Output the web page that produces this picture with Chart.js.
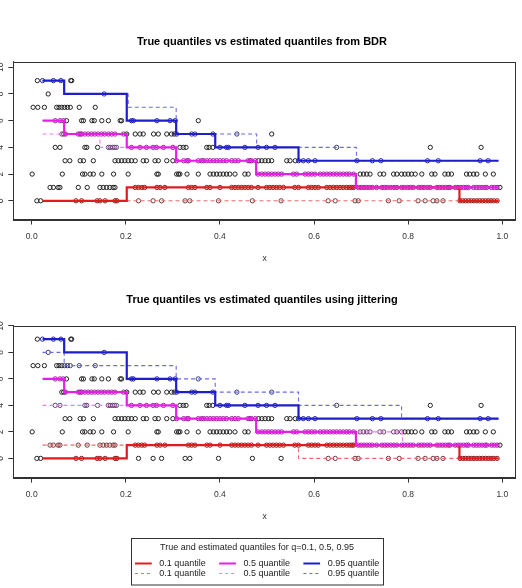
<!DOCTYPE html>
<html>
<head>
<meta charset="utf-8">
<script src="https://cdn.jsdelivr.net/npm/chart.js@4/dist/chart.umd.min.js"></script>
<style>
  html, body { margin: 0; padding: 0; background: #fff; }
  .wrap { position: relative; width: 522px; }
</style>
</head>
<body>
<div class="wrap" style="height:290px"><canvas id="chartBDR"></canvas></div>
<div class="wrap" style="height:298px"><canvas id="chartJitter"></canvas></div>
<script>
// ---------- observations : x positions for each y level ----------
const obsY0 = [0.011, 0.019, 0.094, 0.106, 0.139, 0.145, 0.156, 0.177, 0.181, 0.227, 0.258, 0.276, 0.326, 0.336,
  0.397, 0.469, 0.53, 0.63, 0.645, 0.687, 0.694, 0.758, 0.781, 0.821, 0.836, 0.853, 0.861, 0.874, 0.91, 0.916,
  0.922, 0.928, 0.934, 0.94, 0.946, 0.952, 0.958, 0.964, 0.97, 0.976, 0.982, 0.989];
const obsY1 = [0.039, 0.046, 0.056, 0.06, 0.099, 0.118, 0.145, 0.152, 0.159, 0.166, 0.173, 0.177, 0.22, 0.227,
  0.234, 0.24, 0.266, 0.273, 0.283, 0.333, 0.34, 0.347, 0.372, 0.379, 0.4, 0.425, 0.432, 0.439, 0.446, 0.453,
  0.46, 0.467, 0.481, 0.499, 0.506, 0.513, 0.52, 0.527, 0.535, 0.559, 0.567, 0.588, 0.595, 0.602, 0.609, 0.627,
  0.634, 0.641, 0.648, 0.655, 0.662, 0.669, 0.675, 0.68, 0.684, 0.694, 0.7, 0.706, 0.712, 0.718, 0.724, 0.733,
  0.744, 0.75, 0.756, 0.763, 0.77, 0.776, 0.786, 0.792, 0.799, 0.805, 0.811, 0.822, 0.828, 0.834, 0.841, 0.847,
  0.861, 0.867, 0.873, 0.879, 0.885, 0.889, 0.9, 0.906, 0.912, 0.918, 0.924, 0.928, 0.939, 0.945, 0.951, 0.957,
  0.963, 0.967, 0.977, 0.983, 0.989, 0.995];
const obsY2 = [0.001, 0.065, 0.108, 0.113, 0.124, 0.131, 0.149, 0.174, 0.205, 0.266, 0.269, 0.308, 0.312, 0.315,
  0.33, 0.354, 0.379, 0.386, 0.393, 0.4, 0.407, 0.414, 0.421, 0.432, 0.453, 0.46, 0.481, 0.489, 0.496, 0.503,
  0.51, 0.517, 0.524, 0.531, 0.556, 0.563, 0.581, 0.588, 0.595, 0.602, 0.613, 0.62, 0.627, 0.634, 0.641, 0.648,
  0.655, 0.662, 0.669, 0.675, 0.684, 0.698, 0.705, 0.712, 0.719, 0.74, 0.748, 0.769, 0.776, 0.786, 0.793, 0.8,
  0.807, 0.815, 0.829, 0.85, 0.857, 0.878, 0.885, 0.892, 0.924, 0.931, 0.939, 0.946, 0.964, 0.981];
const obsY3 = [0.071, 0.081, 0.103, 0.11, 0.131, 0.177, 0.184, 0.191, 0.198, 0.205, 0.212, 0.22, 0.237, 0.244,
  0.262, 0.269, 0.287, 0.3, 0.308, 0.323, 0.33, 0.333, 0.354, 0.361, 0.365, 0.372, 0.379, 0.386, 0.393, 0.4,
  0.407, 0.414, 0.425, 0.432, 0.439, 0.46, 0.464, 0.467, 0.475, 0.482, 0.489, 0.496, 0.503, 0.51, 0.542, 0.549,
  0.56, 0.567, 0.577, 0.588, 0.602, 0.691, 0.724, 0.742, 0.841, 0.864, 0.953, 0.97];
const obsY4 = [0.05, 0.06, 0.113, 0.117, 0.14, 0.163, 0.167, 0.172, 0.176, 0.18, 0.212, 0.23, 0.244, 0.258, 0.265,
  0.28, 0.3, 0.315, 0.322, 0.328, 0.372, 0.377, 0.385, 0.4, 0.414, 0.418, 0.453, 0.481, 0.499, 0.517, 0.648,
  0.847, 0.955];
const obsY5 = [0.064, 0.068, 0.072, 0.099, 0.103, 0.106, 0.113, 0.12, 0.127, 0.134, 0.141, 0.148, 0.155, 0.163,
  0.17, 0.177, 0.195, 0.202, 0.22, 0.23, 0.237, 0.259, 0.269, 0.287, 0.297, 0.303, 0.308, 0.34, 0.347, 0.385,
  0.436, 0.51];
const obsY6 = [0.05, 0.06, 0.067, 0.074, 0.106, 0.11, 0.128, 0.133, 0.149, 0.163, 0.188, 0.191, 0.212, 0.216,
  0.266, 0.294, 0.305, 0.354];
const obsY7 = [0.003, 0.013, 0.027, 0.053, 0.058, 0.064, 0.07, 0.076, 0.082, 0.101, 0.135];
const obsY8 = [0.035, 0.154];
const obsY9 = [0.012, 0.023, 0.046, 0.062, 0.083, 0.085];
const obsRows = [obsY0, obsY1, obsY2, obsY3, obsY4, obsY5, obsY6, obsY7, obsY8, obsY9];

// ---------- quantile step functions (x where a step starts, level) ----------
const q10TrueX = [0.023, 0.202, 0.909, 0.992];
const q10TrueY = [0, 1, 0, 0];
const q50TrueX = [0.023, 0.069, 0.202, 0.307, 0.477, 0.689, 0.992];
const q50TrueY = [6, 5, 4, 3, 2, 1, 1];
const q95TrueX = [0.023, 0.069, 0.202, 0.307, 0.39, 0.567, 0.992];
const q95TrueY = [9, 8, 6, 5, 4, 3, 3];

// estimates from BDR (top panel)
const q10BdrX = [0.023, 0.992];
const q10BdrY = [0, 0];
const q50BdrX = [0.023, 0.145, 0.307, 0.477, 0.689, 0.992];
const q50BdrY = [5, 4, 3, 2, 1, 1];
const q95BdrX = [0.023, 0.069, 0.205, 0.307, 0.478, 0.69, 0.992];
const q95BdrY = [9, 8, 7, 5, 4, 3, 3];

// estimates using jittering (bottom panel)
const q10JitX = [0.023, 0.567, 0.992];
const q10JitY = [1, 0, 0];
const q50JitX = [0.023, 0.307, 0.477, 0.788, 0.992];
const q50JitY = [4, 3, 2, 1, 1];
const q95JitX = [0.023, 0.069, 0.307, 0.39, 0.567, 0.786, 0.992];
const q95JitY = [8, 7, 6, 5, 4, 3, 3];

const xTicks = [0, 0.2, 0.4, 0.6, 0.8, 1.0];
const yTicks = [0, 2, 4, 6, 8, 10];
const legendTitle = 'True and estimated quantiles for q=0.1, 0.5, 0.95';
const legendNames = ['0.1 quantile', '0.5 quantile', '0.95 quantile'];

// ---------- styles ----------
const FONT = "'Liberation Sans', Arial, sans-serif";
Chart.defaults.font.family = FONT;
const solidCol = ['#e21c1c', '#e61ee6', '#1e1ecc'];
const dashCol = ['#f26b6b', '#f07cf0', '#6b6be8'];
const dotOnSolid = ['#8a1c1c', '#a11fa1', '#2424a8'];
const dotOnDash = ['#6e3c3c', '#6e3c6e', '#3c3c70'];

const obsPoints = [];
obsRows.forEach((xs, lvl) => xs.forEach(x => obsPoints.push({ x: x, y: lvl })));

function stepPoints(xs, ys) {
  return xs.map((x, i) => ({ x: x, y: ys[i] }));
}
function onStep(xs, ys, p) {
  if (p.x < xs[0] - 1e-9 || p.x > xs[xs.length - 1] + 1e-9) return false;
  let lvl = ys[0];
  for (let i = 0; i < xs.length; i++) if (p.x >= xs[i]) lvl = ys[i];
  return lvl === p.y;
}

// R draws the y labels rotated; only their edge shows at the left border
const yLabelPlugin = {
  id: 'yLabels',
  afterDraw(chart) {
    const s = chart.scales.y, c = chart.ctx;
    c.save();
    c.fillStyle = '#333';
    c.font = '8.5px ' + FONT;
    c.textAlign = 'center'; c.textBaseline = 'alphabetic';
    s.ticks.forEach(t => {
      const y = s.getPixelForValue(t.value);
      c.save();
      c.translate(2.5, y);
      c.rotate(-Math.PI / 2);
      c.fillText(String(t.value), 0, 0);
      c.restore();
    });
    c.restore();
  }
};

const boxPlugin = {
  id: 'box',
  afterDraw(chart) {
    const a = chart.chartArea, c = chart.ctx;
    c.save();
    c.strokeStyle = '#333'; c.lineWidth = 1;
    c.strokeRect(Math.round(a.left) + 0.5, Math.round(a.top) + 0.5,
      Math.round(a.right - a.left), Math.round(a.bottom - a.top));
    c.restore();
  }
};

const legendPlugin = {
  id: 'quantileLegend',
  afterDraw(chart) {
    const c = chart.ctx;
    const left = chart.width / 2 - 130, top = 247.5, w = 252, h = 46.5;
    c.save();
    c.strokeStyle = '#333'; c.lineWidth = 1;
    c.strokeRect(Math.round(left) + 0.5, Math.round(top) + 0.5, w, h);
    c.fillStyle = '#222';
    c.font = '9px ' + FONT;
    c.textAlign = 'center'; c.textBaseline = 'middle';
    c.fillText(legendTitle, left + w / 2, top + 10);
    c.textAlign = 'left';
    for (let k = 0; k < 3; k++) {
      const x0 = left + 4 + k * 84.2;
      [0, 1].forEach(r => {
        const y = top + 26 + r * 10;
        c.strokeStyle = r === 0 ? solidCol[k] : dashCol[k];
        c.lineWidth = r === 0 ? 2 : 1.1;
        c.setLineDash(r === 0 ? [] : [3, 3]);
        c.beginPath(); c.moveTo(x0, y); c.lineTo(x0 + 16.7, y); c.stroke();
        c.setLineDash([]);
        c.fillStyle = '#222';
        c.fillText(legendNames[k], x0 + 24.3, y);
      });
    }
    c.restore();
  }
};

function makeChart(id, title, est, yMin, yMax, pad) {
  const truth = [[q10TrueX, q10TrueY], [q50TrueX, q50TrueY], [q95TrueX, q95TrueY]];
  const dotColor = (ctx) => {
    const p = ctx.raw;
    if (!p) return '#222';
    for (let k = 2; k >= 0; k--) if (onStep(truth[k][0], truth[k][1], p)) return dotOnSolid[k];
    for (let k = 2; k >= 0; k--) if (onStep(est[k][0], est[k][1], p)) return dotOnDash[k];
    return '#222';
  };
  const datasets = [];
  [2, 1, 0].forEach((k, i) => datasets.push({
    type: 'line', data: stepPoints(truth[k][0], truth[k][1]), stepped: 'before',
    borderColor: solidCol[k], borderWidth: 2.2, pointRadius: 0, fill: false, order: 1 + i
  }));
  [2, 1, 0].forEach((k, i) => datasets.push({
    type: 'line', data: stepPoints(est[k][0], est[k][1]), stepped: 'before',
    borderColor: dashCol[k], borderWidth: 1.1, borderDash: [4, 3], pointRadius: 0, fill: false, order: 4 + i
  }));
  datasets.push({
    type: 'scatter', data: obsPoints, order: 10,
    pointRadius: 2.15, pointBorderWidth: 1, pointBackgroundColor: 'rgba(0,0,0,0)',
    pointBorderColor: dotColor
  });

  return new Chart(document.getElementById(id), {
    type: 'scatter',
    data: { datasets: datasets },
    plugins: [boxPlugin, yLabelPlugin].concat(pad.legend ? [legendPlugin] : []),
    options: {
      responsive: true, maintainAspectRatio: false, animation: false, events: [],
      layout: { padding: { left: 8.3, right: 6.3, top: 0, bottom: pad.bottom } },
      plugins: {
        legend: { display: false }, tooltip: { enabled: false },
        title: {
          display: true, text: title, color: '#000',
          font: { family: FONT, size: 11, weight: 'bold', lineHeight: 1.2 },
          padding: { top: pad.titleTop, bottom: pad.titleBottom }
        }
      },
      scales: {
        x: {
          type: 'linear', min: -0.0391, max: 1.0285,
          afterBuildTicks: (ax) => { ax.ticks = xTicks.map(v => ({ value: v })); },
          grid: { drawOnChartArea: false, drawTicks: true, tickLength: 5, tickColor: '#333' },
          border: { display: true, color: '#333' },
          ticks: { color: '#333', font: { size: 8.5 }, padding: 6.7, maxRotation: 0,
            callback: (v) => v.toFixed(1) },
          title: { display: true, text: 'x', color: '#333', font: { size: 8.5 }, padding: { top: 5.8, bottom: 0 } }
        },
        y: {
          type: 'linear', min: yMin, max: yMax,
          afterBuildTicks: (ax) => { ax.ticks = yTicks.filter(v => v <= yMax).map(v => ({ value: v })); },
          grid: { drawOnChartArea: false, drawTicks: true, tickLength: 5, tickColor: '#333' },
          border: { display: true, color: '#333' },
          ticks: { display: false }
        }
      }
    }
  });
}

makeChart('chartBDR', 'True quantiles vs estimated quantiles from BDR',
  [[q10BdrX, q10BdrY], [q50BdrX, q50BdrY], [q95BdrX, q95BdrY]], -1.4, 10.4,
  { bottom: 25.9, titleTop: 35.7, titleBottom: 13 });
makeChart('chartJitter', 'True quantiles vs estimated quantiles using jittering',
  [[q10JitX, q10JitY], [q50JitX, q50JitY], [q95JitX, q95JitY]], -1.45, 10.0,
  { bottom: 65.8, titleTop: 3.7, titleBottom: 19, legend: true });
</script>
</body>
</html>
